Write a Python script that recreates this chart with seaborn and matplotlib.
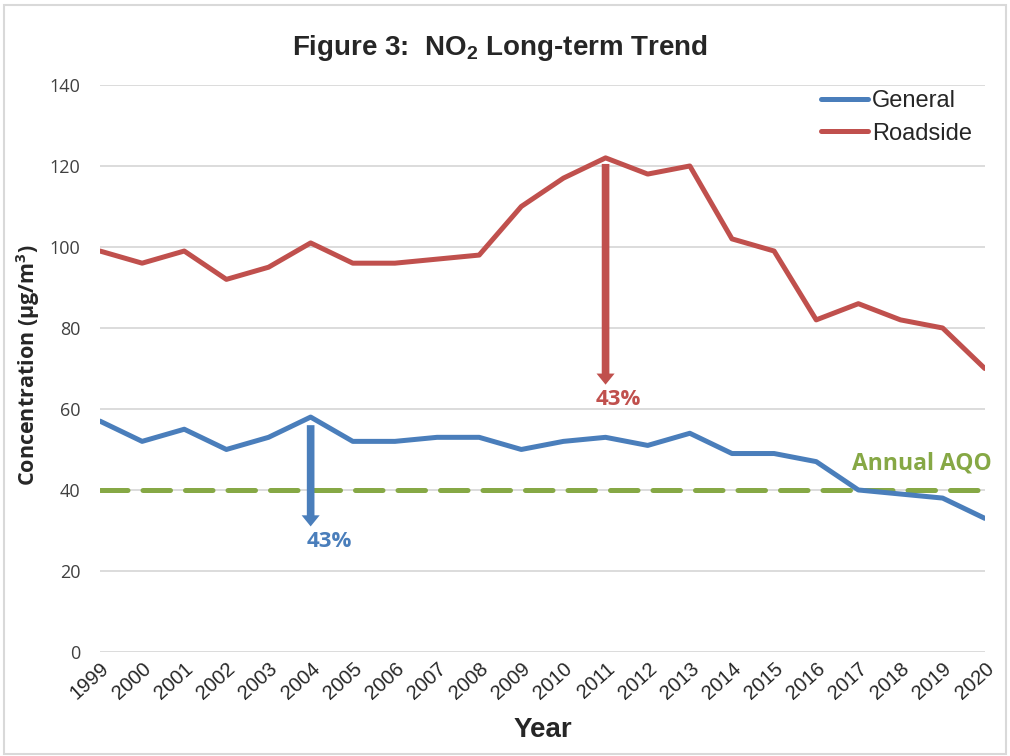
import numpy as np
import pandas as pd
import matplotlib
matplotlib.use("Agg")
import matplotlib.pyplot as plt
import seaborn as sns
from matplotlib.patches import Rectangle

# Data
years = list(range(1999, 2021))
general = [57, 52, 55, 50, 53, 58, 52, 52, 53, 53, 50, 52, 53, 51, 54, 49, 49, 47, 40, 39, 38, 33]
roadside = [99, 96, 99, 92, 95, 101, 96, 96, 97, 98, 110, 117, 122, 118, 120, 102, 99, 82, 86, 82, 80, 70]
aqo = 40

# 43% reduction arrows (year, start, end)
arrow_general = (2004, 56, 31)
arrow_roadside = (2011, 120.5, 66)

df = pd.DataFrame({"Year": years * 2,
                   "Concentration": general + roadside,
                   "Site": ["General"] * len(years) + ["Roadside"] * len(years)})

sns.set_style("white")
plt.rcParams['font.family'] = ['Liberation Sans', 'DejaVu Sans']

blue = "#4A7EBB"
red = "#C0504D"
green = "#86A845"

fig = plt.figure(figsize=(10.1, 7.56), dpi=100)
ax = fig.add_axes([0.099, 0.1376, 0.876, 0.75])

sns.lineplot(data=df, x="Year", y="Concentration", hue="Site",
             palette={"General": blue, "Roadside": red}, linewidth=3.6, ax=ax)
ax.plot([years[0], years[-1]], [aqo, aqo], color=green, lw=3.6,
        dashes=(5.5, 3), solid_capstyle="round", dash_capstyle="round", zorder=1.5)

# arrows
for (yr, y0, y1), c in [(arrow_general, blue), (arrow_roadside, red)]:
    ax.annotate("", xy=(yr, y1), xytext=(yr, y0),
                arrowprops=dict(arrowstyle="simple,head_width=1.3,head_length=0.8,tail_width=0.55",
                                color=c, lw=0, shrinkA=0, shrinkB=0))
lab_font = ["Open Sans", "DejaVu Sans"]
ax.text(arrow_general[0] + 0.45, arrow_general[2] - 3.6, "43%", color=blue, fontsize=16,
        fontweight="bold", family=lab_font, ha="center", va="center")
ax.text(arrow_roadside[0] + 0.3, arrow_roadside[2] - 3.6, "43%", color=red, fontsize=16,
        fontweight="bold", family=lab_font, ha="center", va="center")
ax.text(2016.85, 46.5, "Annual AQO", color=green, fontsize=16.5, fontweight="bold",
        family=lab_font, ha="left", va="center")

ax.set_xlim(years[0], years[-1])
ax.set_ylim(0, 140)
ax.set_yticks(range(0, 141, 20))
ax.set_xticks(years)
ax.set_xticklabels([str(y) for y in years], rotation=42, ha="right", rotation_mode="anchor",
                   fontsize=14.5, family=["Liberation Sans Narrow", "Liberation Sans"])
ax.tick_params(axis="y", labelsize=13, pad=14, length=0)
ax.tick_params(axis="x", pad=5, length=0)
for lab in ax.get_yticklabels():
    lab.set_family(lab_font)
    lab.set_color("#404040")
ax.yaxis.grid(True, color="#D9D9D9", lw=1.3)
ax.xaxis.grid(False)
for s in ax.spines.values():
    s.set_visible(False)

ax.set_xlabel("Year", fontsize=20, fontweight="bold", labelpad=10,
              family=["Liberation Sans Narrow", "Liberation Sans"])
ax.set_ylabel("Concentration (μg/m$^\\mathregular{3}$)", fontsize=15.5, fontweight="bold",
              family=lab_font)
ax.yaxis.set_label_coords(-0.065, 0.505)
fig.suptitle("Figure 3:  NO$_\\mathregular{2}$ Long-term Trend", fontsize=20, fontweight="bold",
             x=0.495, y=0.956)

leg = ax.legend(loc="upper right", frameon=False, fontsize=17, handlelength=2.0,
                borderaxespad=0.0, labelspacing=0.45, handletextpad=0.15,
                bbox_to_anchor=(0.996, 1.008))
for line in leg.get_lines():
    line.set_linewidth(3.6)

fig.patches.append(Rectangle((0.004, 0.003), 0.992, 0.99, transform=fig.transFigure,
                             fill=False, edgecolor="#D9D9D9", lw=1.5))

fig.savefig("out.png", dpi=100, facecolor="white")
